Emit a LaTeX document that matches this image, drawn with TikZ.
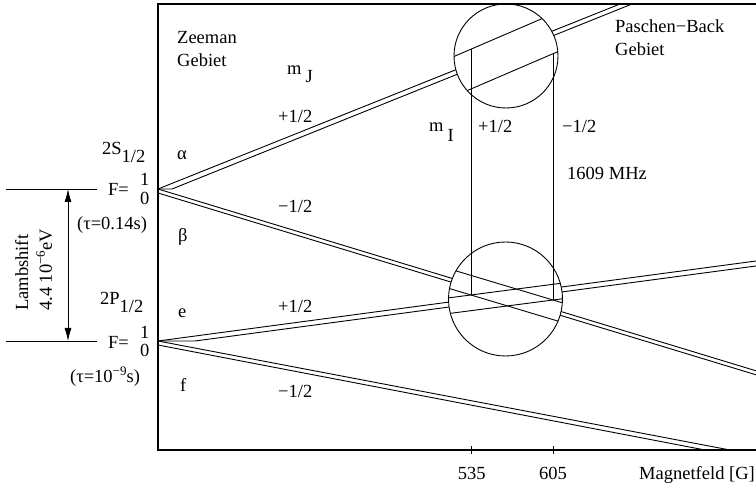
\documentclass[tikz,border=0pt]{standalone}
\usepackage{fontspec}
\setmainfont{Liberation Serif}
\usetikzlibrary{arrows.meta}
\begin{document}
\begin{tikzpicture}[x=1pt,y=-1pt,
  lbl/.style={inner sep=0pt,anchor=base west,font=\fontsize{18.5}{23}\selectfont},
  lblc/.style={lbl,anchor=base},
  frame/.style={line width=1.3pt},
  lev/.style={line width=0.9pt},
  thin/.style={line width=0.8pt},
  circ/.style={circle,draw,line width=0.9pt,fill=white,inner sep=0pt}]
\useasboundingbox (0,0) rectangle (756,486);
% vertices
\coordinate (vS) at (158,189);
\coordinate (vP) at (158,341);
% level lines
\begin{scope}
\clip (158,4) rectangle (756,450);
\draw[lev] (vS) -- (620,4);
\draw[lev] (vS) -- (172,189) -- (632,4);
\draw[lev] (vS) -- (756,370.8);
\draw[lev] (158,193) -- (756,374.8);
\draw[lev] (vP) -- (756,261);
\draw[lev] (vP) -- (195,341) -- (756,266);
\draw[lev] (vP) -- (730,450);
\draw[lev] (158,345) -- (705,450);
\end{scope}
% magnifier circles
\node[circ,minimum size=104pt] (cU) at (506,56) {};
\node[circ,minimum size=114pt] (cL) at (505.5,299) {};
\begin{scope}
\clip (506,56) circle[radius=52];
\draw[lev] (440,62.5) -- (580,2.3);
\draw[lev] (440,102.3) -- (580,42.1);
\end{scope}
\begin{scope}
\clip (505.5,299) circle[radius=57];
\draw[lev] (440,299) -- (580,280.8);
\draw[lev] (440,314.7) -- (580,296.5);
\draw[lev] (440,285.7) -- (580,327.7);
\draw[lev] (440,266.1) -- (580,308.1);
\end{scope}
\coordinate (t1) at (471.7,48.9);
\coordinate (b1) at (471.7,295);
\coordinate (t2) at (553,53.7);
\coordinate (b2) at (553,300);
\draw[thin] (t1) -- (b1);
\draw[thin] (t2) -- (b2);
% frame
\coordinate (fTL) at (158,4);
\coordinate (fTR) at (756,4);
\coordinate (fBL) at (158,450);
\coordinate (fBR) at (756,450);
\draw[frame] (fTR) -- (fTL) -- (fBL) -- (fBR);
\draw[thin] (471.7,446) -- (471.7,454);
\draw[thin] (553,446) -- (553,454);
% left levels and lambshift arrow
\coordinate (hS1) at (6,189);
\coordinate (hS2) at (97,189);
\coordinate (hP1) at (6,341);
\coordinate (hP2) at (97,341);
\draw[lev] (hS1) -- (hS2);
\draw[lev] (hP1) -- (hP2);
\coordinate (aT) at (68,189);
\coordinate (aB) at (68,341);
\draw[thin,{Latex[length=13pt,width=7pt]}-{Latex[length=13pt,width=7pt]}] (aT) -- (aB);
\node[lbl,rotate=90] (lamb) at (28,311) {Lambshift};
\node[lbl,rotate=90] (lamb2) at (52,311) {4.4 10\raisebox{7pt}{\fontsize{13}{13}\selectfont −6}eV};
% left labels
\node[lbl] (s12) at (102,155) {2S\raisebox{-8pt}{1/2}};
\node[lbl] (fs) at (108,196) {F=};
\node[lbl] (fs1) at (140,186) {1};
\node[lbl] (fs0) at (140,205) {0};
\node[lbl] (taus) at (77,230) {(τ=0.14s)};
\node[lbl] (p12) at (100,305) {2P\raisebox{-8pt}{1/2}};
\node[lbl] (fp) at (108,349) {F=};
\node[lbl] (fp1) at (140,339) {1};
\node[lbl] (fp0) at (140,357) {0};
\node[lbl] (taup) at (70,383) {(τ=10\raisebox{7pt}{\fontsize{13}{13}\selectfont −9}s)};
% inside labels
\node[lbl,align=left] (zee) at (177,67) {Zeeman\\Gebiet};
\node[lbl] (mj) at (287,75) {m\hspace{4pt}\raisebox{-8pt}{J}};
\node[lbl] (al) at (177,160) {α};
\node[lbl] (be) at (178,242) {β};
\node[lbl] (ee) at (178,318) {e};
\node[lbl] (ff) at (180,392) {f};
\node[lbl] (mja) at (278,123) {+1/2};
\node[lbl] (mjb) at (278,213) {−1/2};
\node[lbl] (mje) at (278,313) {+1/2};
\node[lbl] (mjf) at (278,398) {−1/2};
\node[lbl] (mi) at (429,132) {m\hspace{4pt}\raisebox{-10pt}{I}};
\node[lbl] (mip) at (478,133) {+1/2};
\node[lbl] (mim) at (562,133) {−1/2};
\node[lbl,align=left] (pb) at (615,56) {Paschen−Back\\Gebiet};
\node[lbl] (mhz) at (567,180) {1609 MHz};
\node[lblc] (x1) at (471.7,480) {535};
\node[lblc] (x2) at (553,480) {605};
\node[lbl,anchor=base east] (mag) at (755,480) {Magnetfeld [G]};
\end{tikzpicture}
\end{document}
